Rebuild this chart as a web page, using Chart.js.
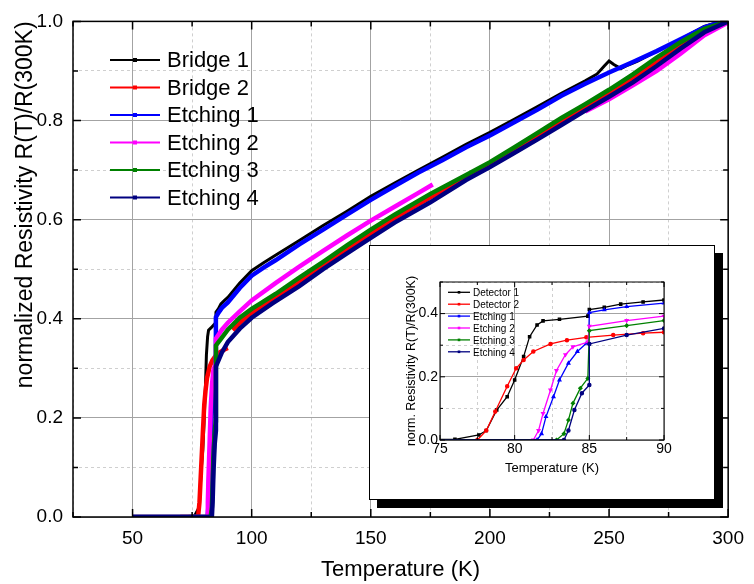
<!DOCTYPE html>
<html>
<head>
<meta charset="utf-8">
<script src="https://cdn.jsdelivr.net/npm/chart.js@4.4.0/dist/chart.umd.min.js"></script>
<style>
  body { margin: 0; background: #fff; }
  #wrap { position: relative; width: 754px; height: 584px; }
  #inset {
    position: absolute; left: 369px; top: 245px; width: 346px; height: 255px;
    box-sizing: border-box; border: 1px solid #000; background: #fff;
    box-shadow: 8px 8px 0 #000;
  }
  #inset canvas, #main { display: block; }
</style>
</head>
<body>
<div id="wrap">
  <canvas id="main" width="754" height="584"></canvas>
  <div id="inset"><canvas id="zoom" width="344" height="253"></canvas></div>
</div>
<script>
// temperature (K) and R(T)/R(300K) for each sample
const bridge1T = [70, 76, 77.6, 78.1, 78.8, 79.5, 80, 80.6, 81, 81.5, 81.9, 83, 84.9, 85, 86, 87.1, 88.6, 90, 95, 100, 105, 110, 120, 130, 140, 150, 160, 170, 180, 190, 200, 210, 220, 230, 240, 245, 248, 250, 252, 255, 258, 262, 270, 280, 290, 295, 300];
const bridge1R = [0, 0.002, 0.016, 0.03, 0.095, 0.137, 0.19, 0.264, 0.327, 0.364, 0.377, 0.382, 0.392, 0.413, 0.42, 0.43, 0.437, 0.443, 0.472, 0.497, 0.513, 0.528, 0.558, 0.588, 0.617, 0.647, 0.674, 0.7, 0.726, 0.752, 0.776, 0.802, 0.828, 0.855, 0.88, 0.894, 0.91, 0.92, 0.913, 0.905, 0.912, 0.92, 0.94, 0.964, 0.99, 0.997, 1.0];

const bridge2T = [70, 77.5, 78.1, 78.7, 79.5, 80.1, 80.6, 81.25, 82.4, 83.5, 84.8, 86.6, 88.6, 90, 91, 92, 95, 100, 106.6, 110, 120, 130, 140, 150, 160, 175, 190, 200, 210, 220, 230, 240, 250, 260, 270, 280, 290, 300];
const bridge2R = [0, 0, 0.03, 0.09, 0.17, 0.227, 0.253, 0.28, 0.304, 0.316, 0.325, 0.332, 0.338, 0.341, null, 0.377, 0.392, 0.412, 0.431, 0.442, 0.475, 0.508, 0.54, 0.572, 0.603, 0.645, 0.685, 0.711, 0.739, 0.768, 0.797, 0.826, 0.855, 0.885, 0.917, 0.95, 0.98, 1.0];

const etch1T = [50, 60, 70, 81.5, 81.8, 82.1, 82.6, 83, 83.6, 84.2, 84.8, 84.95, 85, 86, 87.5, 90, 95, 100, 105, 110, 120, 130, 140, 150, 160, 170, 180, 190, 200, 210, 220, 230, 240, 250, 260, 270, 280, 290, 295, 300];
const etch1R = [0, 0, 0, 0, 0.02, 0.074, 0.137, 0.19, 0.243, 0.28, 0.306, 0.31, 0.403, 0.412, 0.422, 0.433, 0.462, 0.487, 0.503, 0.518, 0.55, 0.58, 0.61, 0.64, 0.668, 0.695, 0.72, 0.746, 0.77, 0.796, 0.822, 0.85, 0.874, 0.897, 0.918, 0.94, 0.964, 0.988, 0.996, 1.0];

const etch2T = [50, 60, 70, 81.25, 81.6, 81.9, 82.4, 82.8, 83.4, 83.9, 84.9, 85, 87.5, 90, 95, 100, 110, 120, 130, 140, 150, 160, 170, 176, 200, 240, 250, 260, 270, 280, 290, 300];
const etch2R = [0, 0, 0, 0, 0.03, 0.084, 0.158, 0.22, 0.27, 0.295, 0.31, 0.36, 0.378, 0.392, 0.415, 0.437, 0.472, 0.505, 0.537, 0.568, 0.598, 0.626, 0.654, 0.671, null, 0.818, 0.843, 0.871, 0.9, 0.935, 0.972, 0.998];

const etch3T = [50, 60, 70, 82.8, 83.3, 83.6, 83.9, 84.4, 84.9, 85, 87.5, 90, 95, 100, 103.7, 110, 120, 130, 140, 150, 160, 175, 190, 200, 210, 220, 230, 240, 250, 260, 270, 280, 290, 300];
const etch3R = [0, 0, 0, 0, 0.02, 0.063, 0.116, 0.164, 0.195, 0.346, 0.362, 0.378, 0.402, 0.42, 0.431, 0.45, 0.483, 0.515, 0.548, 0.58, 0.61, 0.652, 0.69, 0.716, 0.745, 0.775, 0.805, 0.833, 0.862, 0.893, 0.927, 0.958, 0.985, 1.0];

const etch4T = [50, 60, 70, 83.3, 83.6, 84, 84.5, 85, 85, 87.5, 90, 95, 100, 108.7, 120, 130, 140, 150, 160, 175, 190, 200, 210, 220, 230, 240, 250, 260, 270, 280, 290, 300];
const etch4R = [0, 0, 0, 0, 0.03, 0.095, 0.148, 0.174, 0.304, 0.332, 0.353, 0.38, 0.402, 0.431, 0.466, 0.5, 0.532, 0.563, 0.594, 0.635, 0.68, 0.706, 0.734, 0.762, 0.791, 0.82, 0.848, 0.877, 0.91, 0.945, 0.978, 1.0];

const mainLabels = ["Bridge 1", "Bridge 2", "Etching 1", "Etching 2", "Etching 3", "Etching 4"];
const insetLabels = ["Detector 1", "Detector 2", "Etching 1", "Etching 2", "Etching 3", "Etching 4"];
const colors = ["#000000", "#ff0000", "#0000ff", "#ff00ff", "#008000", "#000080"];
const seriesT = [bridge1T, bridge2T, etch1T, etch2T, etch3T, etch4T];
const seriesR = [bridge1R, bridge2R, etch1R, etch2R, etch3R, etch4R];

const mainXTicks = [50, 100, 150, 200, 250, 300];
const insetXTicks = [75, 80, 85, 90];

Chart.defaults.font.family = "'Liberation Sans', Arial, Helvetica, sans-serif";
Chart.defaults.color = "#000";

const pts = (T, R) => T.map((t, i) => ({ x: t, y: R[i] }));
const isMaj = (v, step) => Math.abs(v / step - Math.round(v / step)) < 1e-6;

// black frame with inward ticks on all four sides
function framePlugin(majX, majY, lenMaj, lenMin, lw) {
  return {
    id: "frame",
    afterDatasetsDraw(chart) {
      const { ctx, chartArea: a, scales: { x, y } } = chart;
      ctx.save();
      ctx.strokeStyle = "#000";
      ctx.lineWidth = lw;
      ctx.beginPath();
      x.ticks.forEach(t => {
        const px = x.getPixelForValue(t.value);
        const len = isMaj(t.value, majX) ? lenMaj : lenMin;
        ctx.moveTo(px, a.bottom); ctx.lineTo(px, a.bottom - len);
        ctx.moveTo(px, a.top); ctx.lineTo(px, a.top + len);
      });
      y.ticks.forEach(t => {
        const py = y.getPixelForValue(t.value);
        const len = isMaj(t.value, majY) ? lenMaj : lenMin;
        ctx.moveTo(a.left, py); ctx.lineTo(a.left + len, py);
        ctx.moveTo(a.right, py); ctx.lineTo(a.right - len, py);
      });
      ctx.stroke();
      ctx.strokeRect(a.left, a.top, a.right - a.left, a.bottom - a.top);
      ctx.restore();
    }
  };
}

// legend drawn inside the plot like the original
function legendPlugin(cfg) {
  return {
    id: "boxLegend",
    afterDraw(chart) {
      const ctx = chart.ctx;
      ctx.save();
      ctx.font = cfg.font;
      ctx.textBaseline = "middle";
      chart.data.datasets.forEach((ds, i) => {
        const y = cfg.y0 + i * cfg.dy;
        ctx.strokeStyle = ds.borderColor;
        ctx.lineWidth = cfg.lw;
        ctx.beginPath();
        ctx.moveTo(cfg.x0, y);
        ctx.lineTo(cfg.x1, y);
        ctx.stroke();
        ctx.fillStyle = ds.borderColor;
        const m = (cfg.x0 + cfg.x1) / 2;
        ctx.fillRect(m - cfg.r, y - cfg.r, cfg.r * 2, cfg.r * 2);
        ctx.fillStyle = "#000";
        ctx.fillText(ds.label, cfg.tx, y + 1);
      });
      ctx.restore();
    }
  };
}

function gridOpts(step) {
  return {
    color: c => (c.tick && !isMaj(c.tick.value, step)) ? "#cfcfcf" : "#a3a3a3",
    lineWidth: 1,
    drawTicks: false
  };
}
function borderOpts(step) {
  return { display: false, dash: c => (c.tick && !isMaj(c.tick.value, step)) ? [3, 3] : [] };
}

// main chart
const mainSets = mainLabels.map((label, i) => ({
  label,
  data: pts(seriesT[i], seriesR[i]),
  borderColor: colors[i],
  backgroundColor: colors[i],
  borderWidth: i === 0 ? 3 : 4.5,
  pointRadius: 0,
  spanGaps: false,
  order: 10 - i
}));

new Chart(document.getElementById("main"), {
  type: "line",
  data: { datasets: mainSets },
  options: {
    responsive: false,
    animation: false,
    layout: { padding: { top: 14, right: 17, left: 0, bottom: 0 } },
    elements: { line: { tension: 0 } },
    plugins: { legend: { display: false }, tooltip: { enabled: false } },
    scales: {
      x: {
        type: "linear", min: 25, max: 300,
        afterFit: s => { s.height = 67; },
        ticks: {
          stepSize: 25, autoSkip: false, maxRotation: 0, padding: 10,
          font: { size: 19 },
          callback: v => mainXTicks.includes(v) ? String(v) : ""
        },
        grid: gridOpts(50),
        border: borderOpts(50),
        title: { display: true, text: "Temperature (K)", font: { size: 22 }, padding: { top: 0, bottom: 1 } }
      },
      y: {
        type: "linear", min: 0, max: 1,
        afterFit: s => { s.width = 73; },
        ticks: {
          stepSize: 0.1, autoSkip: false, padding: 10,
          font: { size: 19 },
          callback: v => isMaj(v, 0.2) ? v.toFixed(1) : ""
        },
        grid: gridOpts(0.2),
        border: borderOpts(0.2),
        title: {
          display: true, text: "normalized Resistivity R(T)/R(300K)", align: "end",
          font: { size: 23 }, padding: { top: 12, bottom: 0 }
        }
      }
    }
  },
  plugins: [
    framePlugin(50, 0.2, 8, 5, 1.5),
    legendPlugin({ font: "22px 'Liberation Sans', Arial, sans-serif", x0: 110, x1: 160, tx: 167, y0: 60, dy: 27.5, lw: 2, r: 2 })
  ]
});

// inset: zoom on the transition
const insetStyles = ["rect", "circle", "triangle", "triangle", "rectRot", "circle"];
const insetRot = [0, 0, 0, 180, 0, 0];
const insetSets = insetLabels.map((label, i) => ({
  label,
  data: pts(seriesT[i], seriesR[i]),
  borderColor: colors[i],
  backgroundColor: colors[i],
  borderWidth: 1.3,
  pointRadius: 1.6,
  pointStyle: insetStyles[i],
  rotation: insetRot[i],
  spanGaps: false,
  order: 10 - i
}));

new Chart(document.getElementById("zoom"), {
  type: "line",
  data: { datasets: insetSets },
  options: {
    responsive: false,
    animation: false,
    layout: { padding: { top: 36, right: 50, left: 0, bottom: 0 } },
    elements: { line: { tension: 0 } },
    plugins: { legend: { display: false }, tooltip: { enabled: false } },
    scales: {
      x: {
        type: "linear", min: 75, max: 90,
        afterFit: s => { s.height = 59; },
        ticks: {
          stepSize: 2.5, autoSkip: false, maxRotation: 0, padding: 1,
          font: { size: 14 },
          callback: v => insetXTicks.includes(v) ? String(v) : ""
        },
        grid: gridOpts(5),
        border: borderOpts(5),
        title: { display: true, text: "Temperature (K)", font: { size: 13 }, padding: { top: 0, bottom: 23 } }
      },
      y: {
        type: "linear", min: 0, max: 0.5,
        afterFit: s => { s.width = 70; },
        ticks: {
          stepSize: 0.1, autoSkip: false, padding: 2,
          font: { size: 14 },
          callback: v => isMaj(v, 0.2) ? v.toFixed(1) : ""
        },
        grid: gridOpts(0.2),
        border: borderOpts(0.2),
        title: {
          display: true, text: "norm. Resistivity R(T)/R(300K)",
          font: { size: 12.5 }, padding: { top: 34, bottom: 0 }
        }
      }
    }
  },
  plugins: [
    framePlugin(5, 0.2, 5, 3, 1),
    legendPlugin({ font: "10px 'Liberation Sans', Arial, sans-serif", x0: 78, x1: 100, tx: 103, y0: 46.3, dy: 11.9, lw: 1.3, r: 1.3 })
  ]
});
</script>
</body>
</html>
